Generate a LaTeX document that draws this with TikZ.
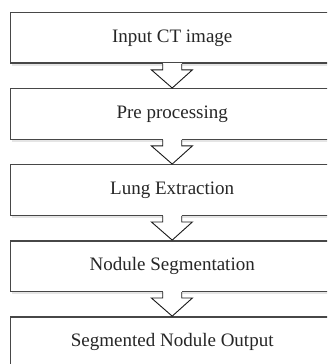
\documentclass[tikz,border=0pt]{standalone}
\usepackage{fontspec}
\setmainfont{Liberation Serif}
\usetikzlibrary{calc}
\tikzset{
  stepbox/.style={draw=black!72, line width=1.4pt, fill=white, rectangle,
    minimum width=324pt, minimum height=50.5pt, inner sep=0pt,
    font=\fontsize{19}{22}\selectfont, text=black!85},
  arrowline/.style={draw=black!90, line width=0.9pt, line join=miter},
  boxshadow/.style={draw=black!10, line width=2pt}
}
\newcommand{\flowarrow}[2]{%
  \fill[white] ($(#1.south)+(-9.5,0.9)$) rectangle ($(#1.south)+(9.5,-6)$);
  \fill[white] ($(#1.south)+(-20.8,-6)$) -- (#2.north) -- ($(#1.south)+(20.2,-6)$) -- cycle;
  \draw[arrowline] ($(#1.south)+(-9.5,0)$) -- ++(0,-6) -- ++(-11.3,0) -- (#2.north)
    -- ($(#1.south)+(20.2,-6)$) -- ++(-10.7,0) -- ++(0,6);
}
\begin{document}
\begin{tikzpicture}[x=1pt,y=1pt]
  \useasboundingbox[fill=white] (0,0) rectangle (327,-364);
  \begin{scope}
  \clip (0,0) rectangle (327,-364);
  \foreach \i/\t in {1/Input CT image,2/Pre processing,3/Lung Extraction,4/Nodule Segmentation,5/Segmented Nodule Output}{
    \draw[boxshadow] (12,{-37.9-76.05*(\i-1)-26.6}) -- (334,{-37.9-76.05*(\i-1)-26.6});
    \node[stepbox] (b\i) at (172.2,{-37.9-76.05*(\i-1)}) {\t};
  }
  \flowarrow{b1}{b2}
  \flowarrow{b2}{b3}
  \flowarrow{b3}{b4}
  \flowarrow{b4}{b5}
  \end{scope}
\end{tikzpicture}
\end{document}
